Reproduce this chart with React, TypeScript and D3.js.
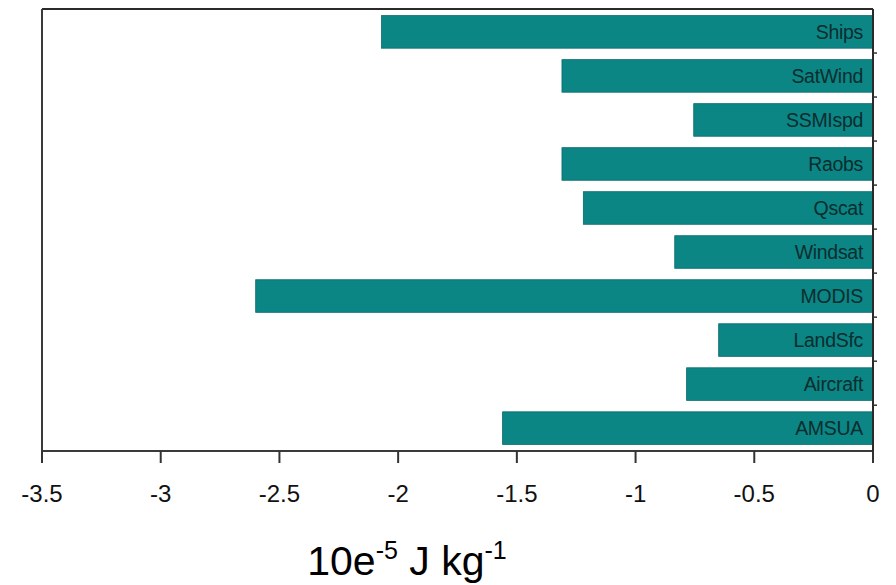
import React from "react";
import * as d3 from "d3";

const categories = ["Ships", "SatWind", "SSMIspd", "Raobs", "Qscat", "Windsat", "MODIS", "LandSfc", "Aircraft", "AMSUA"];
const values = [-2.07, -1.31, -0.755, -1.31, -1.22, -0.835, -2.6, -0.65, -0.785, -1.56];
const xTicks = [-3.5, -3, -2.5, -2, -1.5, -1, -0.5, 0];

export default function App() {
  const W = 896, H = 585;
  const left = 42, right = 873, top = 9, bottom = 451;
  const x = d3.scaleLinear().domain([-3.5, 0]).range([left, right]);
  const y = d3.scaleBand().domain(categories).range([top, bottom]).paddingInner(0.26).paddingOuter(0.15);
  const step = y.step();
  const font = "'Liberation Sans', Arial, sans-serif";
  return (
    <svg width={W} height={H} style={{ position: "absolute", left: 0, top: 0, background: "#fff" }}>
      {categories.map((c, i) => (
        <g key={c}>
          <rect x={x(values[i])} y={y(c)!} width={x(0) - x(values[i])} height={y.bandwidth()} fill="#0c8585" stroke="#0a6a6a" strokeWidth={0.8} />
          <text x={863} y={y(c)! + y.bandwidth() / 2} dy="0.36em" textAnchor="end" fontFamily={font} fontSize={19.5} fill="#0a2e2e" letterSpacing={-0.3}>{c}</text>
        </g>
      ))}
      {/* plot frame */}
      <line x1={left} x2={right} y1={top} y2={top} stroke="#2a2a2a" strokeWidth={2} />
      <line x1={left} x2={left} y1={top} y2={bottom} stroke="#3a3a3a" strokeWidth={2} />
      <line x1={left} x2={right + 1} y1={bottom} y2={bottom} stroke="#3a3a3a" strokeWidth={2} />
      <line x1={right} x2={right} y1={top} y2={bottom + 12} stroke="#2a2a2a" strokeWidth={2} />
      {d3.range(1, categories.length).map((k) => (
        <line key={k} x1={right} x2={right + 4} y1={top + k * step} y2={top + k * step} stroke="#333" strokeWidth={1.5} />
      ))}
      {xTicks.map((t) => (
        <g key={t}>
          <line x1={x(t)} x2={x(t)} y1={bottom} y2={bottom + 12} stroke="#333" strokeWidth={2} />
          <text x={x(t)} y={502} textAnchor="middle" fontFamily={font} fontSize={24} fill="#111">{t === 0 ? "0" : String(t)}</text>
        </g>
      ))}
      <text x={407} y={575} textAnchor="middle" fontFamily={font} fontSize={41} fill="#000">
        10e<tspan fontSize={25} dy={-16}>-5</tspan><tspan dy={16}> J kg</tspan><tspan fontSize={25} dy={-16}>-1</tspan>
      </text>
    </svg>
  );
}
